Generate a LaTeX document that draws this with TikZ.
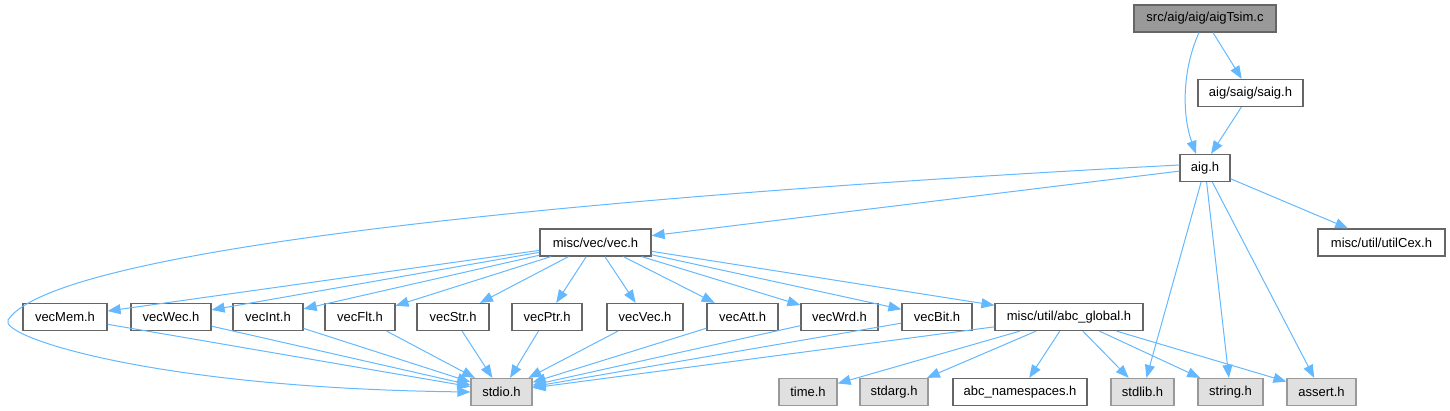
\documentclass[tikz,border=0pt]{standalone}
\usepackage{fontspec}
\setmainfont{Liberation Sans}
\usetikzlibrary{arrows.meta}
\definecolor{edgeblue}{HTML}{63B8FF}
\definecolor{frame}{HTML}{666666}
\definecolor{sysframe}{HTML}{999999}
\definecolor{sysfill}{HTML}{E0E0E0}
\definecolor{srcfill}{HTML}{999999}
\tikzset{
  hdr/.style={draw=frame, fill=white, line width=1.2pt, inner sep=0pt, minimum height=27pt, font=\fontsize{13}{15}\selectfont},
  sys/.style={hdr, draw=sysframe, fill=sysfill},
  src/.style={hdr, fill=srcfill},
  dep/.style={draw=edgeblue, line width=1pt, -{Triangle[length=13pt,width=10pt]}}
}
\begin{document}
\begin{tikzpicture}[x=1pt,y=-1pt]
 \useasboundingbox (0,0) rectangle (1450,411);
 \node[src,minimum width=142pt] (tsim) at (1205,18.5) {src/aig/aig/aigTsim.c};
 \node[hdr,minimum width=105pt] (saig) at (1250.5,93) {aig/saig/saig.h};
 \node[hdr,minimum width=50pt] (aig) at (1205,168) {aig.h};
 \node[hdr,minimum width=127pt] (utilcex) at (1381.5,242.5) {misc/util/utilCex.h};
 \node[hdr,minimum width=111pt] (vec) at (595.5,242.5) {misc/vec/vec.h};

 \node[hdr,minimum width=84pt] (vecmem) at (65,317) {vecMem.h};
 \node[hdr,minimum width=80pt] (vecwec) at (171,317) {vecWec.h};
 \node[hdr,minimum width=70pt] (vecint) at (268,317) {vecInt.h};
 \node[hdr,minimum width=70pt] (vecflt) at (360,317) {vecFlt.h};
 \node[hdr,minimum width=72pt] (vecstr) at (453,317) {vecStr.h};
 \node[hdr,minimum width=70pt] (vecptr) at (547,317) {vecPtr.h};
 \node[hdr,minimum width=76pt] (vecvec) at (645,317) {vecVec.h};
 \node[hdr,minimum width=71pt] (vecatt) at (742.5,317) {vecAtt.h};
 \node[hdr,minimum width=77pt] (vecwrd) at (839.5,317) {vecWrd.h};
 \node[hdr,minimum width=70pt] (vecbit) at (937,317) {vecBit.h};
 \node[hdr,minimum width=148pt] (global) at (1069,317) {misc/util/abc\_global.h};

 \node[sys,minimum width=61pt] (stdio) at (501.5,392) {stdio.h};
 \node[sys,minimum width=58pt] (time) at (808,392) {time.h};
 \node[sys,minimum width=68pt] (stdarg) at (894,392) {stdarg.h};
 \node[hdr,minimum width=134pt] (abcns) at (1020,392) {abc\_namespaces.h};
 \node[sys,minimum width=63pt] (stdlib) at (1142.5,392) {stdlib.h};
 \node[sys,minimum width=65pt] (string) at (1230.5,392) {string.h};
 \node[sys,minimum width=69pt] (assert) at (1321.5,392) {assert.h};

 \draw[dep] ([xshift=-6pt]tsim.south) .. controls (1182,70) and (1182,115) .. ([xshift=-9pt]aig.north);
 \draw[dep] ([xshift=8pt]tsim.south) -- (saig);
 \draw[dep] (saig) -- ([xshift=6pt]aig.north);

 \draw[dep] ([yshift=3pt]aig.west) .. controls (700,190) and (60,240) .. (8,320)
   .. controls (-2,336) and (150,388) .. (stdio.west);
 \draw[dep] (aig) -- (vec);
 \draw[dep] (aig) -- (utilcex);
 \draw[dep] (aig) -- (stdlib);
 \draw[dep] (aig) -- (string);
 \draw[dep] (aig) -- (assert);

 \foreach \h in {vecmem,vecwec,vecint,vecflt,vecstr,vecptr,vecvec,vecatt,vecwrd,vecbit,global}
   \draw[dep] (vec) -- (\h);
 \foreach \h in {vecmem,vecwec,vecint,vecflt,vecstr,vecptr,vecvec,vecatt,vecwrd,vecbit}
   \draw[dep] (\h) -- (stdio);

 \foreach \h in {stdio,time,stdarg,abcns,stdlib,string,assert}
   \draw[dep] (global) -- (\h);
\end{tikzpicture}
\end{document}
